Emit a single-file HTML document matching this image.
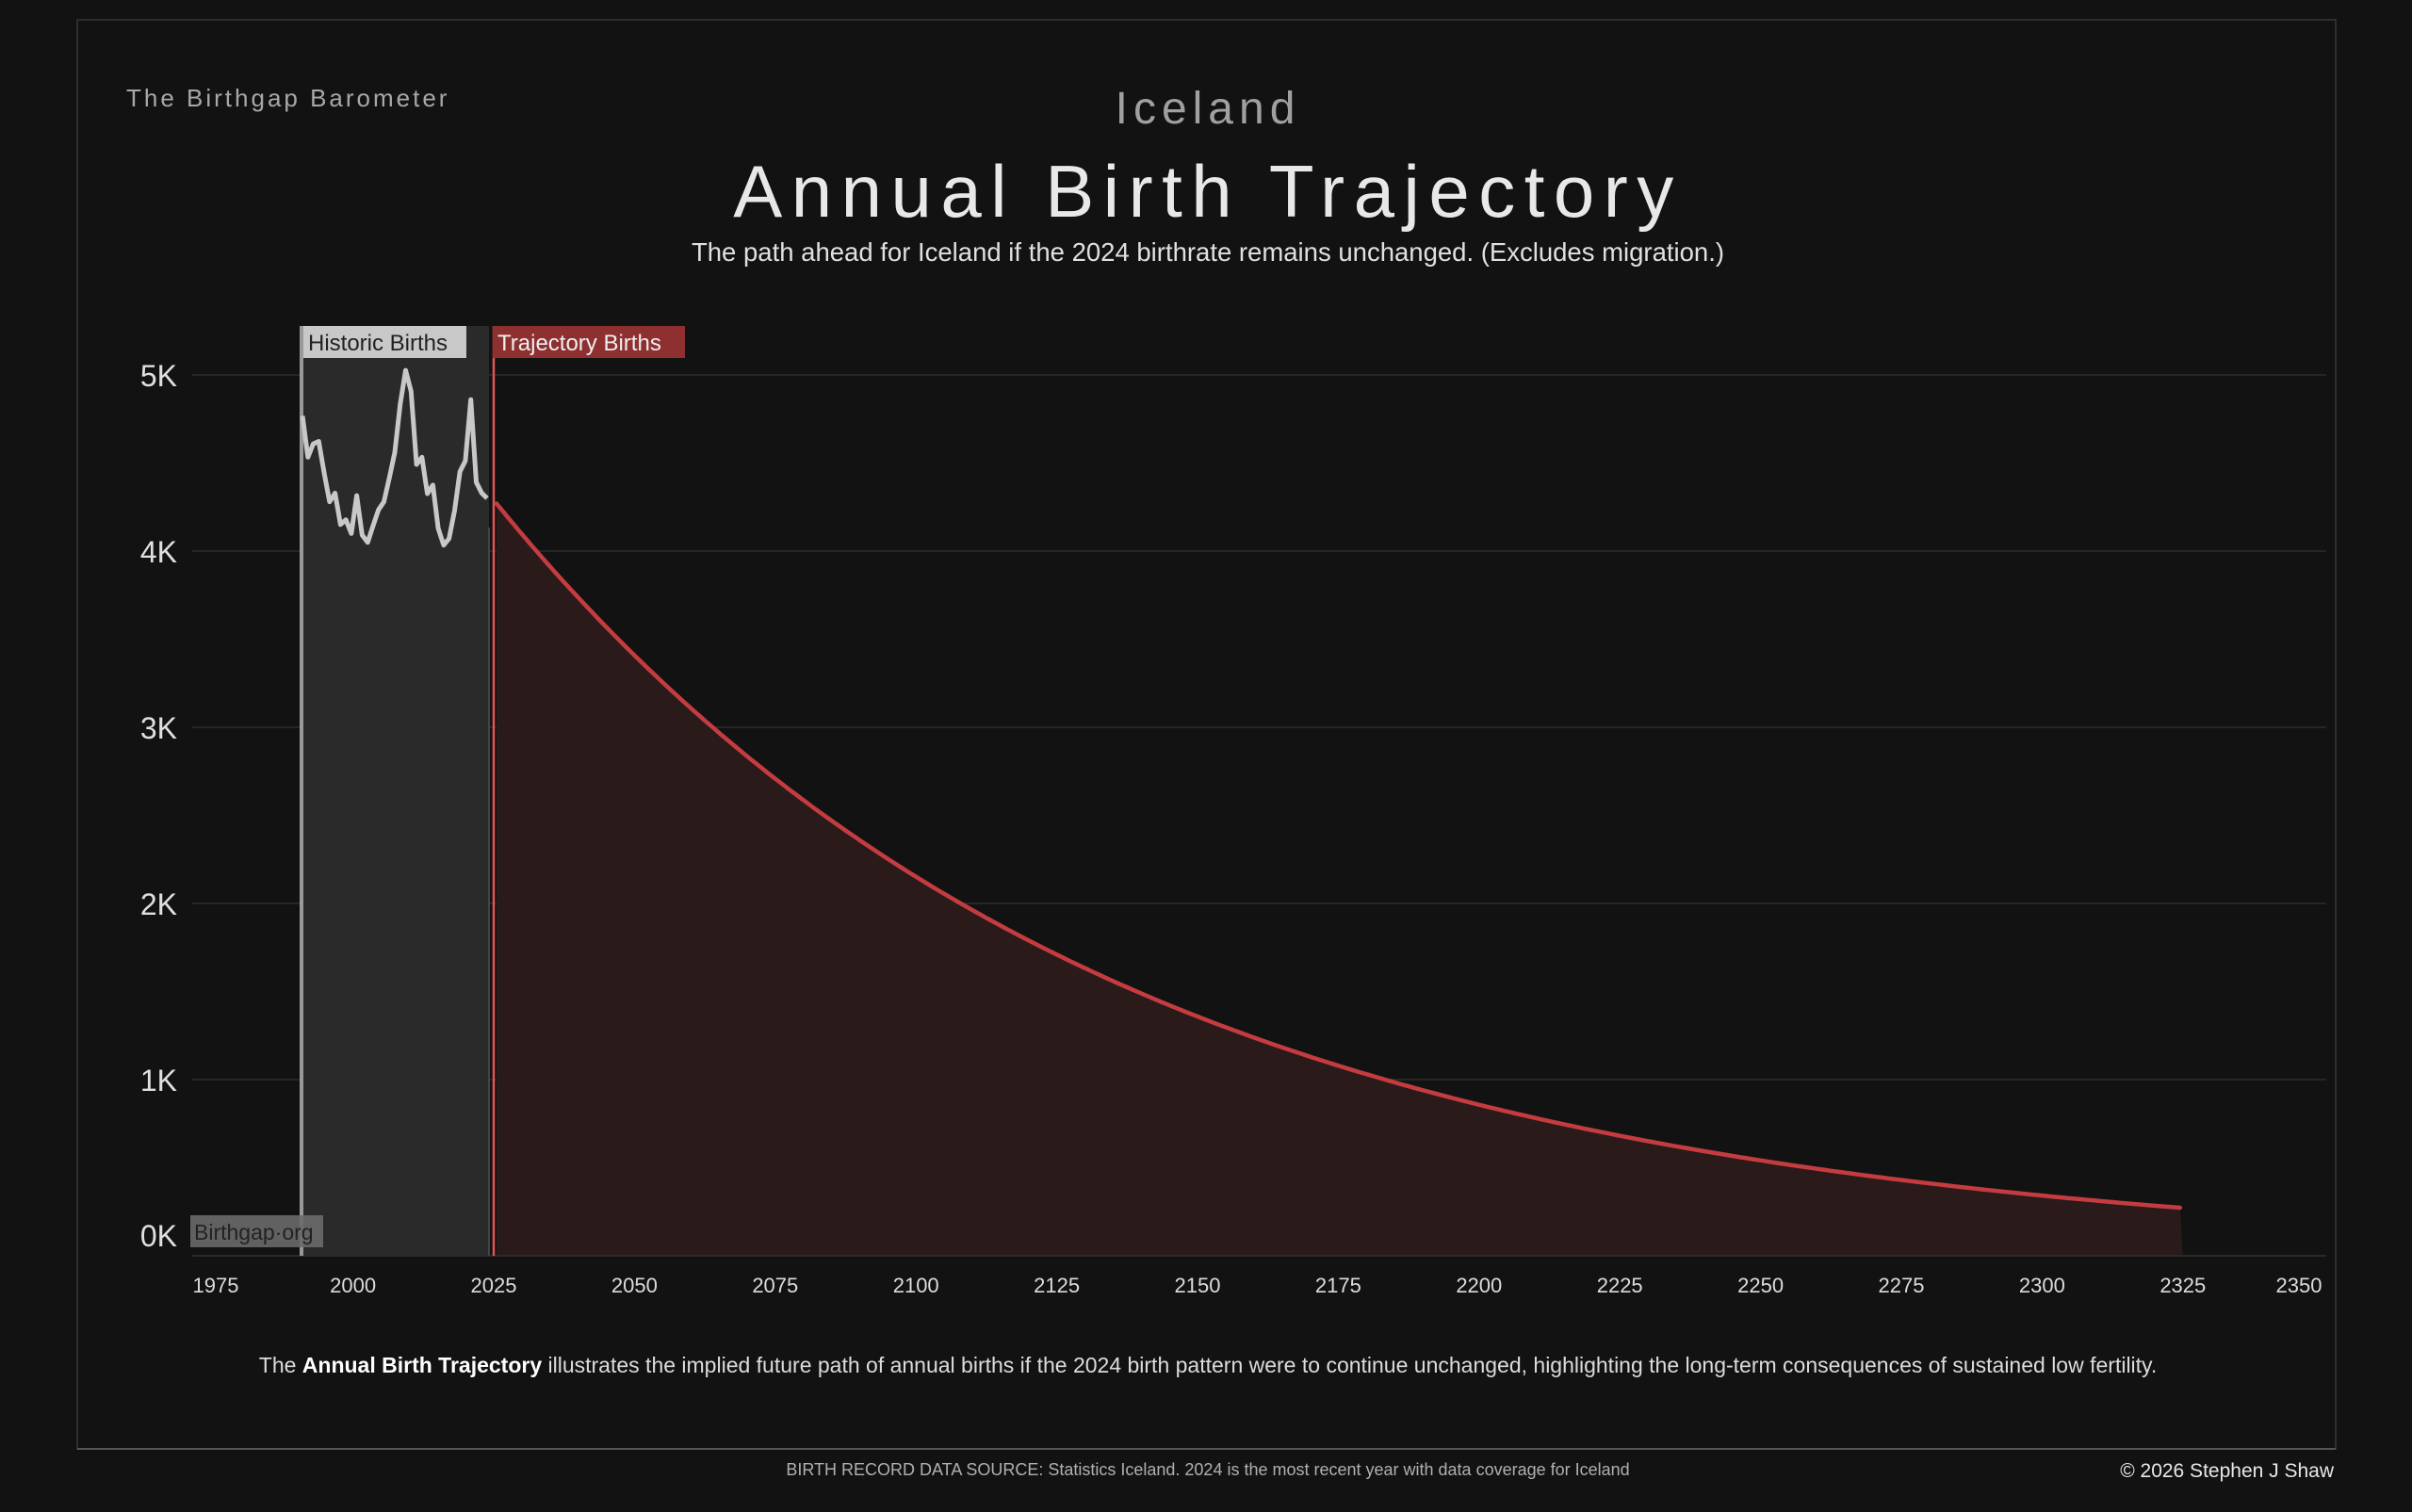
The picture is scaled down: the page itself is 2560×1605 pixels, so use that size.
<!DOCTYPE html>
<html><head><meta charset="utf-8">
<style>
html,body{margin:0;padding:0;background:#121212;}
body{width:2560px;height:1600px;overflow:hidden;font-family:"Liberation Sans",sans-serif;}
svg text{font-family:"Liberation Sans",sans-serif;}
</style></head>
<body>
<svg id="s" width="2560" height="1600" viewBox="0 0 2560 1600" xmlns="http://www.w3.org/2000/svg">
<rect x="0" y="0" width="2560" height="1600" fill="#121212"/>
<rect x="82" y="21" width="2397" height="1517" fill="none" stroke="#2e2e2e" stroke-width="2"/>
<line x1="82" y1="1538" x2="2479" y2="1538" stroke="#555" stroke-width="2"/>
<text x="134" y="113" fill="#a8a8a8" font-size="26" letter-spacing="3">The Birthgap Barometer</text>
<text x="1282" y="131" fill="#a0a0a0" font-size="48" text-anchor="middle" letter-spacing="6">Iceland</text>
<text x="1282" y="230" fill="#e8e8e8" font-size="78" text-anchor="middle" letter-spacing="9.5">Annual Birth Trajectory</text>
<text x="1282" y="277" fill="#e0e0e0" font-size="27.5" text-anchor="middle">The path ahead for Iceland if the 2024 birthrate remains unchanged.  (Excludes migration.)</text>
<g stroke="#262626" stroke-width="2">
<line x1="204" y1="398" x2="2469" y2="398"/>
<line x1="204" y1="585" x2="2469" y2="585"/>
<line x1="204" y1="772" x2="2469" y2="772"/>
<line x1="204" y1="959" x2="2469" y2="959"/>
<line x1="204" y1="1146" x2="2469" y2="1146"/>
</g>
<g fill="#e0e0e0" font-size="32" text-anchor="end">
<text x="188" y="410">5K</text><text x="188" y="597">4K</text><text x="188" y="784">3K</text>
<text x="188" y="971">2K</text><text x="188" y="1158">1K</text><text x="188" y="1323">0K</text>
</g>
<rect x="320" y="346" width="199" height="987" fill="#2a2a2a"/>
<path id="redfill" fill="#2a1a1a"/>
<line x1="204" y1="1333" x2="2469" y2="1333" stroke="#2a2a2a" stroke-width="2"/>
<line x1="320" y1="346" x2="320" y2="1333" stroke="#999" stroke-width="4"/>
<line x1="519" y1="560" x2="519" y2="1333" stroke="#444" stroke-width="2"/>
<line x1="524" y1="346" x2="524" y2="1333" stroke="#e05555" stroke-width="2.5"/>
<path id="hist" fill="none" stroke="#c8c8c8" stroke-width="5" stroke-linejoin="round"/>
<path id="traj" fill="none" stroke="#c43c40" stroke-width="4.5" stroke-linecap="round"/>
<rect x="322" y="346" width="173" height="34" fill="#c8c8c8"/>
<text x="327" y="372" fill="#222" font-size="24">Historic Births</text>
<rect x="523" y="346" width="204" height="34" fill="#8e2f30"/>
<text x="528" y="372" fill="#eee" font-size="24">Trajectory Births</text>
<rect x="202" y="1290" width="141" height="34" fill="#6a6a6a" opacity="0.9"/>
<text x="206" y="1316" fill="#222" font-size="23">Birthgap·org</text>
<g id="xt" fill="#dcdcdc" font-size="22" text-anchor="middle"></g>
<text x="1282" y="1457" fill="#dcdcdc" font-size="23" text-anchor="middle">The <tspan font-weight="bold" fill="#fff">Annual Birth Trajectory</tspan> illustrates the implied future path of annual births if the 2024 birth pattern were to continue unchanged, highlighting the long-term consequences of sustained low fertility.</text>
<text x="1282" y="1566" fill="#b0b0b0" font-size="18" text-anchor="middle">BIRTH RECORD DATA SOURCE: Statistics Iceland. 2024 is the most recent year with data coverage for Iceland</text>
<text x="2477" y="1568" fill="#e8e8e8" font-size="21" text-anchor="end">© 2026 Stephen J Shaw</text>
</svg>
<script>
var X=function(y){return 524+(y-2025)*5.976;};
var Y=function(v){return 1333-v*0.187;};
var xt=document.getElementById('xt'),h='';
for(var y=1975;y<=2350;y+=25){var x=X(y);if(y==1975)x=229;if(y==2350)x=2440;h+='<text x="'+x.toFixed(1)+'" y="1372">'+y+'</text>';}
xt.innerHTML=h;
var d=[4768,4533,4609,4623,4442,4280,4329,4151,4178,4100,4315,4091,4049,4143,4234,4280,4415,4560,4835,5026,4907,4492,4533,4326,4375,4129,4034,4071,4228,4452,4512,4860,4391,4330,4300];
var HX=function(i){return 321+i*(517-321)/34;};
var p='';for(var i=0;i<d.length;i++){p+=(i?'L':'M')+HX(i).toFixed(1)+' '+Y(d[i]).toFixed(1);}
document.getElementById('hist').setAttribute('d',p);
var q='';for(var y=2025.5;y<=2325;y+=1){var v=4270*Math.exp(-0.0092*(y-2025.5));q+=(q?'L':'M')+X(y).toFixed(1)+' '+Y(v).toFixed(1);}
document.getElementById('traj').setAttribute('d',q);
document.getElementById('redfill').setAttribute('d',q+'L'+X(2325).toFixed(1)+' 1333L'+X(2025.5).toFixed(1)+' 1333Z');
</script>
</body></html>
